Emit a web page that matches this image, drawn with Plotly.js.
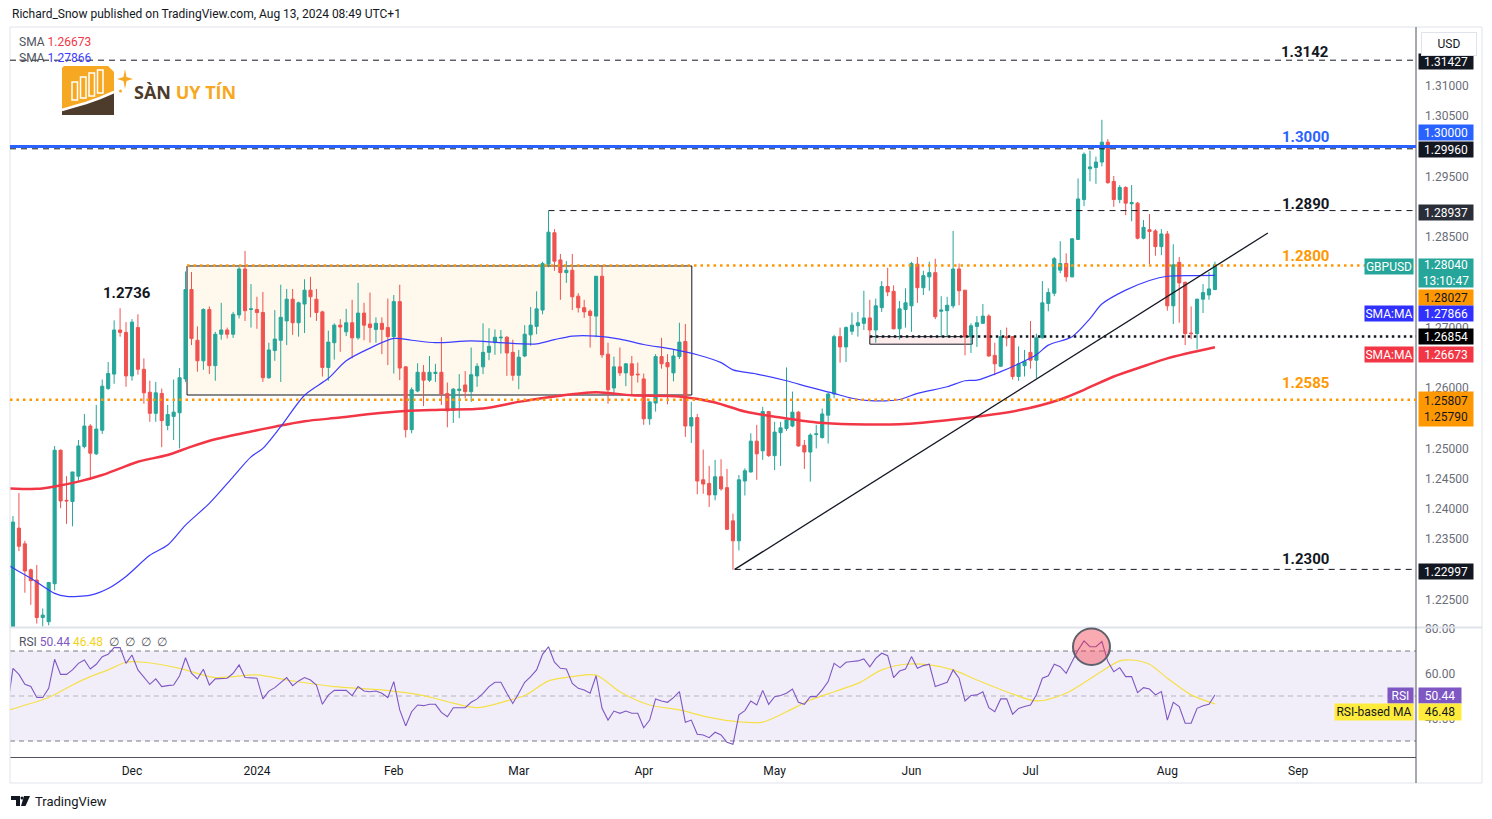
<!DOCTYPE html>
<html><head><meta charset="utf-8">
<script src="https://cdn.plot.ly/plotly-3.0.1.min.js"></script>
<style>html,body{margin:0;padding:0;background:#fff;}#chart{width:1492px;height:819px;}</style>
</head><body><div id="chart"></div>
<script>
// ---------- DATA ----------
const dates = [
'2023-11-02','2023-11-03','2023-11-06','2023-11-07','2023-11-08','2023-11-09','2023-11-10','2023-11-13','2023-11-14','2023-11-15','2023-11-16','2023-11-17','2023-11-20','2023-11-21','2023-11-22','2023-11-23','2023-11-24','2023-11-27','2023-11-28','2023-11-29','2023-11-30',
'2023-12-01','2023-12-04','2023-12-05','2023-12-06','2023-12-07','2023-12-08','2023-12-11','2023-12-12','2023-12-13','2023-12-14','2023-12-15','2023-12-18','2023-12-19','2023-12-20','2023-12-21','2023-12-22','2023-12-25','2023-12-26','2023-12-27','2023-12-28','2023-12-29',
'2024-01-01','2024-01-02','2024-01-03','2024-01-04','2024-01-05','2024-01-08','2024-01-09','2024-01-10','2024-01-11','2024-01-12','2024-01-15','2024-01-16','2024-01-17','2024-01-18','2024-01-19','2024-01-22','2024-01-23','2024-01-24','2024-01-25','2024-01-26','2024-01-29','2024-01-30','2024-01-31',
'2024-02-01','2024-02-02','2024-02-05','2024-02-06','2024-02-07','2024-02-08','2024-02-09','2024-02-12','2024-02-13','2024-02-14','2024-02-15','2024-02-16','2024-02-19','2024-02-20','2024-02-21','2024-02-22','2024-02-23','2024-02-26','2024-02-27','2024-02-28','2024-02-29',
'2024-03-01','2024-03-04','2024-03-05','2024-03-06','2024-03-07','2024-03-08','2024-03-11','2024-03-12','2024-03-13','2024-03-14','2024-03-15','2024-03-18','2024-03-19','2024-03-20','2024-03-21','2024-03-22','2024-03-25','2024-03-26','2024-03-27','2024-03-28','2024-03-29',
'2024-04-01','2024-04-02','2024-04-03','2024-04-04','2024-04-05','2024-04-08','2024-04-09','2024-04-10','2024-04-11','2024-04-12','2024-04-15','2024-04-16','2024-04-17','2024-04-18','2024-04-19','2024-04-22','2024-04-23','2024-04-24','2024-04-25','2024-04-26','2024-04-29','2024-04-30',
'2024-05-01','2024-05-02','2024-05-03','2024-05-06','2024-05-07','2024-05-08','2024-05-09','2024-05-10','2024-05-13','2024-05-14','2024-05-15','2024-05-16','2024-05-17','2024-05-20','2024-05-21','2024-05-22','2024-05-23','2024-05-24','2024-05-27','2024-05-28','2024-05-29','2024-05-30','2024-05-31',
'2024-06-03','2024-06-04','2024-06-05','2024-06-06','2024-06-07','2024-06-10','2024-06-11','2024-06-12','2024-06-13','2024-06-14','2024-06-17','2024-06-18','2024-06-19','2024-06-20','2024-06-21','2024-06-24','2024-06-25','2024-06-26','2024-06-27','2024-06-28',
'2024-07-01','2024-07-02','2024-07-03','2024-07-04','2024-07-05','2024-07-08','2024-07-09','2024-07-10','2024-07-11','2024-07-12','2024-07-15','2024-07-16','2024-07-17','2024-07-18','2024-07-19','2024-07-22','2024-07-23','2024-07-24','2024-07-25','2024-07-26','2024-07-29','2024-07-30','2024-07-31',
'2024-08-01','2024-08-02','2024-08-05','2024-08-06','2024-08-07','2024-08-08','2024-08-09','2024-08-12','2024-08-13'];

const open = [
1.2155,1.2200,1.2368,1.2342,1.2299,1.2282,1.2220,1.2213,1.2276,1.2497,1.2414,1.2412,1.2454,1.2503,1.2537,1.2491,1.2530,1.2599,1.2623,1.2696,1.2692,
1.2620,1.2700,1.2631,1.2593,1.2558,1.2591,1.2538,1.2553,1.2559,1.2615,1.2763,1.2679,1.2645,1.2730,1.2637,1.2689,1.2696,1.2689,1.2721,1.2797,1.2730,
1.2730,1.2725,1.2617,1.2662,1.2679,1.2711,1.2747,1.2708,1.2739,1.2762,1.2747,1.2726,1.2634,1.2675,1.2704,1.2693,1.2708,1.2683,1.2724,1.2706,1.2697,1.2707,1.2700,
1.2685,1.2743,1.2635,1.2531,1.2595,1.2626,1.2613,1.2624,1.2626,1.2591,1.2563,1.2596,1.2605,1.2594,1.2620,1.2635,1.2659,1.2675,1.2683,1.2684,1.2659,
1.2621,1.2653,1.2688,1.2702,1.2729,1.2805,1.2857,1.2812,1.2791,1.2795,1.2752,1.2733,1.2727,1.2719,1.2785,1.2656,1.2600,1.2635,1.2625,1.2640,1.2623,
1.2615,1.2549,1.2575,1.2652,1.2642,1.2625,1.2652,1.2677,1.2537,1.2551,1.2448,1.2442,1.2423,1.2453,1.2435,1.2380,1.2347,1.2446,1.2461,1.2512,1.2496,1.2561,
1.2488,1.2526,1.2533,1.2537,1.2560,1.2505,1.2494,1.2523,1.2518,1.2555,1.2590,1.2685,1.2668,1.2694,1.2703,1.2707,1.2716,1.2696,1.2733,1.2768,1.2760,1.2698,1.2730,
1.2736,1.2805,1.2766,1.2784,1.2791,1.2727,1.2728,1.2736,1.2797,1.2762,1.2685,1.2702,1.2707,1.2719,1.2654,1.2636,1.2685,1.2685,1.2619,1.2637,
1.2659,1.2646,1.2683,1.2740,1.2757,1.2795,1.2806,1.2784,1.2846,1.2912,1.2963,1.2965,1.2974,1.3007,1.2942,1.2912,1.2932,1.2905,1.2906,1.2848,1.2862,1.2860,1.2834,
1.2855,1.2736,1.2808,1.2775,1.2691,1.2690,1.2747,1.2754,1.2763];

const high = [
1.2214,1.2388,1.2426,1.2347,1.2301,1.2307,1.2235,1.2279,1.2504,1.2498,1.2454,1.2461,1.2514,1.2557,1.2540,1.2572,1.2614,1.2643,1.2712,1.2732,1.2709,
1.2714,1.2722,1.2649,1.2612,1.2610,1.2599,1.2572,1.2614,1.2633,1.2793,1.2792,1.2702,1.2732,1.2735,1.2693,1.2741,1.2700,1.2726,1.2800,1.2827,1.2772,
1.2751,1.2759,1.2675,1.2729,1.2771,1.2764,1.2764,1.2743,1.2780,1.2784,1.2764,1.2728,1.2695,1.2707,1.2714,1.2731,1.2746,1.2774,1.2741,1.2758,1.2717,1.2717,1.2748,
1.2754,1.2771,1.2636,1.2601,1.2641,1.2638,1.2653,1.2640,1.2684,1.2609,1.2600,1.2623,1.2628,1.2667,1.2641,1.2707,1.2699,1.2697,1.2696,1.2686,1.2680,
1.2663,1.2704,1.2734,1.2760,1.2809,1.2893,1.2863,1.2822,1.2810,1.2822,1.2757,1.2746,1.2730,1.2785,1.2803,1.2675,1.2652,1.2667,1.2641,1.2653,1.2642,
1.2624,1.2578,1.2656,1.2683,1.2656,1.2663,1.2708,1.2706,1.2577,1.2557,1.2498,1.2471,1.2481,1.2482,1.2466,1.2392,1.2456,1.2467,1.2525,1.2539,1.2569,1.2562,
1.2544,1.2544,1.2634,1.2594,1.2562,1.2514,1.2525,1.2539,1.2566,1.2592,1.2688,1.2700,1.2702,1.2725,1.2726,1.2761,1.2746,1.2748,1.2777,1.2799,1.2770,1.2744,1.2765,
1.2809,1.2817,1.2794,1.2809,1.2814,1.2752,1.2751,1.2860,1.2806,1.2762,1.2707,1.2719,1.2739,1.2722,1.2675,1.2696,1.2700,1.2686,1.2669,1.2663,
1.2711,1.2690,1.2777,1.2765,1.2817,1.2843,1.2823,1.2848,1.2947,1.2990,1.2993,1.2983,1.3044,1.3012,1.2951,1.2936,1.2934,1.2936,1.2908,1.2878,1.2888,1.2863,1.2863,
1.2860,1.2838,1.2817,1.2776,1.2735,1.2748,1.2772,1.2792,1.2809];

const low = [
1.2140,1.2185,1.2330,1.2261,1.2241,1.2210,1.2205,1.2207,1.2265,1.2401,1.2375,1.2371,1.2445,1.2500,1.2449,1.2489,1.2524,1.2597,1.2607,1.2685,1.2602,
1.2612,1.2622,1.2574,1.2544,1.2544,1.2502,1.2530,1.2514,1.2500,1.2610,1.2671,1.2627,1.2630,1.2623,1.2612,1.2680,1.2682,1.2683,1.2715,1.2711,1.2700,
1.2698,1.2610,1.2615,1.2645,1.2610,1.2671,1.2688,1.2685,1.2691,1.2717,1.2711,1.2619,1.2612,1.2647,1.2660,1.2686,1.2649,1.2680,1.2679,1.2675,1.2675,1.2656,1.2638,
1.2624,1.2613,1.2518,1.2525,1.2593,1.2570,1.2610,1.2610,1.2572,1.2535,1.2542,1.2550,1.2583,1.2577,1.2602,1.2623,1.2646,1.2655,1.2657,1.2620,1.2612,
1.2598,1.2651,1.2670,1.2689,1.2722,1.2800,1.2794,1.2746,1.2774,1.2729,1.2725,1.2716,1.2667,1.2684,1.2650,1.2574,1.2591,1.2620,1.2603,1.2588,1.2609,
1.2539,1.2539,1.2561,1.2632,1.2573,1.2611,1.2648,1.2519,1.2509,1.2424,1.2425,1.2403,1.2414,1.2430,1.2365,1.2299,1.2331,1.2422,1.2460,1.2448,1.2481,1.2486,
1.2464,1.2471,1.2529,1.2535,1.2503,1.2466,1.2445,1.2500,1.2516,1.2508,1.2583,1.2642,1.2643,1.2688,1.2685,1.2696,1.2682,1.2675,1.2726,1.2752,1.2697,1.2680,1.2700,
1.2693,1.2741,1.2754,1.2761,1.2714,1.2685,1.2685,1.2732,1.2737,1.2654,1.2658,1.2668,1.2706,1.2652,1.2621,1.2635,1.2669,1.2614,1.2612,1.2619,
1.2632,1.2616,1.2682,1.2727,1.2752,1.2790,1.2776,1.2783,1.2845,1.2901,1.2942,1.2938,1.2967,1.2938,1.2900,1.2906,1.2886,1.2876,1.2846,1.2846,1.2805,1.2819,1.2820,
1.2728,1.2706,1.2708,1.2671,1.2681,1.2664,1.2724,1.2746,1.2762];

const close = [
1.2198,1.2378,1.2338,1.2297,1.2281,1.2220,1.2224,1.2278,1.2497,1.2413,1.2413,1.2461,1.2504,1.2537,1.2492,1.2532,1.2603,1.2624,1.2696,1.2692,1.2620,
1.2709,1.2631,1.2592,1.2558,1.2592,1.2546,1.2556,1.2560,1.2617,1.2763,1.2682,1.2645,1.2730,1.2637,1.2689,1.2696,1.2689,1.2722,1.2797,1.2728,1.2731,
1.2725,1.2617,1.2663,1.2681,1.2717,1.2747,1.2708,1.2741,1.2762,1.2751,1.2725,1.2634,1.2676,1.2704,1.2701,1.2708,1.2683,1.2724,1.2704,1.2700,1.2707,1.2697,1.2685,
1.2743,1.2633,1.2531,1.2597,1.2626,1.2613,1.2626,1.2626,1.2590,1.2562,1.2598,1.2598,1.2594,1.2622,1.2636,1.2659,1.2669,1.2684,1.2684,1.2658,1.2621,
1.2651,1.2689,1.2704,1.2731,1.2806,1.2858,1.2810,1.2791,1.2795,1.2751,1.2733,1.2726,1.2720,1.2785,1.2655,1.2597,1.2635,1.2625,1.2640,1.2621,1.2622,
1.2549,1.2577,1.2652,1.2640,1.2635,1.2653,1.2676,1.2537,1.2551,1.2446,1.2441,1.2423,1.2453,1.2433,1.2366,1.2347,1.2448,1.2463,1.2512,1.2491,1.2561,1.2488,
1.2527,1.2534,1.2547,1.2560,1.2504,1.2494,1.2522,1.2524,1.2557,1.2590,1.2685,1.2668,1.2700,1.2704,1.2708,1.2716,1.2696,1.2736,1.2768,1.2759,1.2698,1.2731,1.2741,
1.2806,1.2766,1.2786,1.2791,1.2718,1.2729,1.2737,1.2797,1.2761,1.2685,1.2703,1.2708,1.2719,1.2653,1.2640,1.2685,1.2683,1.2619,1.2640,1.2644,
1.2646,1.2683,1.2741,1.2758,1.2814,1.2806,1.2784,1.2847,1.2913,1.2987,1.2966,1.2974,1.3007,1.2940,1.2912,1.2932,1.2906,1.2907,1.2848,1.2866,1.2859,1.2834,1.2855,
1.2736,1.2804,1.2774,1.2690,1.2690,1.2747,1.2758,1.2764,1.2804];

const rsi = [
44.0,62.3,59.6,55.2,54.2,49.3,49.3,53.4,66.3,59.6,59.6,61.6,64.5,66.0,62.0,64.1,67.5,68.5,71.5,71.5,64.5,
68.2,61.6,58.6,55.2,57.6,54.2,54.6,54.9,59.0,67.0,60.1,57.6,61.9,54.9,57.6,57.9,57.9,60.1,63.8,58.2,58.2,
57.9,48.7,52.2,53.7,56.1,58.2,54.6,56.7,58.2,57.1,54.9,46.3,50.4,52.5,52.5,52.5,50.2,54.2,52.2,51.9,52.2,51.2,49.3,
56.4,43.8,36.7,43.0,46.0,45.7,46.3,46.3,42.7,40.8,44.8,44.8,44.8,47.2,48.7,51.2,54.2,56.1,56.1,51.2,46.7,
51.2,56.1,58.6,61.6,68.5,71.9,65.0,62.3,62.0,55.6,53.4,52.7,51.2,59.0,44.5,39.3,43.3,42.3,43.3,42.3,42.3,
35.9,39.3,48.7,47.8,47.2,49.3,51.9,38.3,39.3,33.0,32.7,31.5,33.9,32.7,29.4,28.5,41.6,43.5,47.8,46.0,52.5,46.3,
49.7,50.2,51.2,53.1,47.2,46.3,49.7,49.7,52.7,56.4,64.5,62.6,65.0,65.3,65.6,66.5,63.0,66.7,69.0,67.9,58.2,61.1,62.0,
67.5,62.3,63.5,64.1,54.2,55.2,56.1,61.6,57.9,47.8,50.2,50.5,51.9,44.8,43.0,48.7,48.7,41.9,44.5,45.3,
46.0,50.5,57.9,59.0,64.1,63.0,60.1,65.3,70.4,74.5,71.9,71.9,74.2,65.3,60.8,62.6,58.6,58.6,51.5,53.7,53.1,50.5,52.0,
39.3,47.2,45.3,37.9,37.9,44.5,45.7,46.3,50.44];

const rsiMaDates = ['2023-11-02','2023-11-03','2023-11-13','2023-11-17','2023-11-22','2023-11-27','2023-11-30','2023-12-05','2023-12-13','2023-12-21','2024-01-01','2024-01-08','2024-01-18','2024-01-30','2024-02-08','2024-02-15','2024-02-21','2024-02-28','2024-03-04','2024-03-08','2024-03-14','2024-03-20','2024-03-26','2024-04-02','2024-04-09','2024-04-16','2024-04-23','2024-04-29','2024-05-03','2024-05-09','2024-05-15','2024-05-21','2024-05-27','2024-05-31','2024-06-06','2024-06-12','2024-06-18','2024-06-25','2024-07-02','2024-07-09','2024-07-16','2024-07-22','2024-07-24','2024-07-29','2024-08-01','2024-08-07','2024-08-13'];
const rsiMaVals = [43.5,44.3,49.3,54.9,58.6,61.6,65.0,65.0,62.3,58.2,59.4,57.1,54.2,52.7,50.2,46.8,44.8,47.8,50.2,56.7,58.6,59.3,51.9,46.0,43.8,40.5,38.5,38.4,43.0,48.2,51.9,55.6,61.6,64.1,63.8,61.6,57.1,51.9,47.8,51.2,59.3,65.6,66.0,64.1,57.9,50.5,46.48];

const sma50Dates = ['2023-11-02','2023-11-03','2023-11-08','2023-11-14','2023-11-16','2023-11-22','2023-11-27','2023-11-30','2023-12-06','2023-12-11','2023-12-14','2023-12-20','2023-12-26','2023-12-29','2024-01-02','2024-01-05','2024-01-11','2024-01-17','2024-01-22','2024-01-26','2024-02-01','2024-02-06','2024-02-12','2024-02-20','2024-02-27','2024-03-06','2024-03-11','2024-03-14','2024-03-20','2024-03-26','2024-04-01','2024-04-08','2024-04-12','2024-04-18','2024-04-22','2024-04-26','2024-05-03','2024-05-09','2024-05-15','2024-05-20','2024-05-23','2024-05-30','2024-06-04','2024-06-11','2024-06-14','2024-06-18','2024-06-24','2024-06-27','2024-07-02','2024-07-04','2024-07-10','2024-07-15','2024-07-17','2024-07-23','2024-07-29','2024-08-01','2024-08-08','2024-08-13'];
const sma50Vals = [1.2308,1.2302,1.2285,1.2260,1.2255,1.2257,1.2268,1.2288,1.2323,1.2340,1.2373,1.2409,1.2453,1.2486,1.2500,1.2536,1.2588,1.2616,1.2645,1.2666,1.2682,1.2679,1.2675,1.2678,1.2675,1.2673,1.2680,1.2686,1.2686,1.2681,1.2672,1.2664,1.2655,1.2642,1.2630,1.2623,1.2612,1.2601,1.2591,1.2583,1.2579,1.2581,1.2591,1.2602,1.2612,1.2613,1.2627,1.2640,1.2655,1.2671,1.2685,1.2715,1.2739,1.2762,1.2778,1.2785,1.2786,1.27866];

const sma200Dates = ['2023-11-02','2023-11-09','2023-11-14','2023-11-20','2023-11-24','2023-11-29','2023-12-04','2023-12-11','2023-12-15','2023-12-21','2023-12-29','2024-01-04','2024-01-11','2024-01-19','2024-01-26','2024-02-05','2024-02-13','2024-02-22','2024-03-01','2024-03-11','2024-03-20','2024-03-28','2024-04-09','2024-04-17','2024-04-24','2024-05-02','2024-05-10','2024-05-20','2024-05-30','2024-06-12','2024-06-27','2024-07-08','2024-07-12','2024-07-19','2024-07-26','2024-08-01','2024-08-13'];
const sma200Vals = [1.2434,1.2433,1.2437,1.2445,1.2456,1.2467,1.2478,1.2489,1.2503,1.2515,1.2528,1.2536,1.2545,1.2551,1.2557,1.2562,1.2564,1.2566,1.2577,1.2586,1.2593,1.2588,1.2586,1.2576,1.2561,1.2551,1.2543,1.2540,1.2540,1.2548,1.2563,1.2581,1.2597,1.2619,1.2636,1.2649,1.26673];

const monthTickDates = ['2023-12-01','2024-01-01','2024-02-01','2024-03-01','2024-04-01','2024-05-01','2024-06-03','2024-07-01','2024-08-01','2024-09-02'];
const monthTickLabels = ['Dec','2024','Feb','Mar','Apr','May','Jun','Jul','Aug','Sep'];

const priceTicks = [1.225,1.235,1.24,1.245,1.25,1.26,1.27,1.285,1.295,1.305,1.31];
const rsiTicks = [40,60,80];

// horizontal levels
const lvl3142 = 1.31427, lvl2996 = 1.29960, lvl3000 = 1.30000, lvl2894 = 1.28937,
      lvl2803 = 1.28027, lvl2685 = 1.26854, lvl2581 = 1.25807, lvl2300 = 1.22997;
const boxTop = 1.28020, boxBottom = 1.25884;
const pinkTop = 1.26850, pinkBottom = 1.26725;
const trendStart = 1.22997, trendEnd = 1.28566;
const levelLabels = ['1.3142','1.3000','1.2890','1.2800','1.2585','1.2300'];
const swingLabel = '1.2736';
const lastPrice = '1.28040', countdown = '13:10:47';
const sma200Last = '1.26673', sma50Last = '1.27866';
const rsiLast = '50.44', rsiMaLast = '46.48';

// ---------- GEOMETRY ----------
const L = 10, R = 1416, T = 28, B = 757;
const X = p => (p - L) / (R - L);
const Y = p => (B - p) / (B - T);
const FONT = 'Roboto, "Liberation Sans", sans-serif';
const xStart = '2023-11-02 12:00', xEnd = '2024-09-27 19:00';
const INK = '#131722';

const shapes = [];
const annotations = [];

function pline(x0, y0, x1, y1, color, width, dash) {
  shapes.push({type:'line', xref:'paper', yref:'paper', x0:X(x0), y0:Y(y0), x1:X(x1), y1:Y(y1),
    line:{color:color, width:width, dash:dash || 'solid'}});
}
function prect(x0, y0, x1, y1, fill, lineColor, lw, layer) {
  shapes.push({type:'rect', xref:'paper', yref:'paper', x0:X(x0), y0:Y(y1), x1:X(x1), y1:Y(y0),
    fillcolor:fill, line:{color:lineColor || 'rgba(0,0,0,0)', width:lw || 0}, layer:layer || 'above'});
}
function ppath(pts, fill, lineColor, lw, open_) {
  const d = pts.map((p, i) => (i ? 'L' : 'M') + X(p[0]) + ',' + Y(p[1])).join(' ') + (open_ ? '' : ' Z');
  shapes.push({type:'path', xref:'paper', yref:'paper', path:d, fillcolor:fill,
    line:{color:lineColor || 'rgba(0,0,0,0)', width:lw || 0}});
}
function hlevel(y, xFrom, color, width, dash) {
  shapes.push({type:'line', xref:'x', yref:'y', x0:xFrom, x1:xEnd, y0:y, y1:y,
    line:{color:color, width:width, dash:dash}});
}
function text(t, px, py, opts) {
  opts = opts || {};
  annotations.push(Object.assign({text:t, xref:'paper', yref:'paper', x:X(px), y:Y(py),
    xanchor:'left', yanchor:'middle', showarrow:false,
    font:{family:FONT, size:12, color:INK}}, opts));
}
function tag(t, px, py, w, h, bg, fg, anchor) {
  annotations.push({text:t, xref:'paper', yref:'paper', x:X(px), y:Y(py), xanchor:anchor || 'left',
    yanchor:'middle', showarrow:false, width:w, height:h, bgcolor:bg, borderpad:0, align:'center',
    valign:'middle', font:{family:FONT, size:12, color:fg}});
}

// frame and separators
prect(10, 27, 1482, 783, 'rgba(0,0,0,0)', '#e0e3eb', 1);
pline(10, 627.5, 1482, 627.5, '#e0e3eb', 2);
pline(1416, 27, 1416, 783, '#50535e', 1);

// consolidation box and small pink box
shapes.push({type:'rect', xref:'x', yref:'y', x0:'2023-12-14 06:00', x1:'2024-04-11 02:00', y0:boxBottom, y1:boxTop,
  fillcolor:'rgba(255,152,0,0.07)', line:{color:INK, width:1}, layer:'below'});
shapes.push({type:'rect', xref:'x', yref:'y', x0:'2024-05-23', x1:'2024-06-17 05:00', y0:pinkBottom, y1:pinkTop,
  fillcolor:'rgba(242,54,69,0.10)', line:{color:INK, width:1}, layer:'below'});

// levels
hlevel(lvl3142, xStart, INK, 1, '6px,5px');
hlevel(lvl2996, xStart, INK, 1, '6px,5px');
hlevel(lvl3000, xStart, '#2962ff', 3, 'solid');
hlevel(lvl2894, '2024-03-08', INK, 1, '6px,5px');
hlevel(lvl2803, '2023-12-14 06:00', '#ff9800', 2.5, '2.5px,4px');
hlevel(lvl2581, xStart, '#ff9800', 2.5, '2.5px,4px');
hlevel(lvl2685, '2024-05-23', INK, 2.5, '2.5px,3.5px');
hlevel(lvl2300, '2024-04-22 07:00', INK, 1, '6px,5px');
// trend line
shapes.push({type:'line', xref:'x', yref:'y', x0:'2024-04-22 07:00', y0:trendStart, x1:'2024-08-23 21:36', y1:trendEnd,
  line:{color:INK, width:1.3}});

// RSI pane band and guides
shapes.push({type:'rect', xref:'paper', yref:'y2', x0:0, x1:1, y0:30, y1:70, fillcolor:'rgba(126,87,194,0.10)',
  line:{width:0}, layer:'below'});
[[70,'#787b86'],[50,'#b2b5be'],[30,'#787b86']].forEach(([v,c]) => shapes.push({type:'line', xref:'paper', yref:'y2',
  x0:0, x1:1, y0:v, y1:v, line:{color:c, width:1, dash:'5px,4px'}, layer:'below'}));
// highlight circle
shapes.push({type:'circle', xref:'paper', yref:'paper', x0:X(1073), x1:X(1110), y0:Y(665), y1:Y(628.5),
  fillcolor:'rgba(242,54,69,0.42)', line:{color:'#5d606b', width:2}});

// logo watermark
ppath([[64,66],[108,66],[114,72],[114,115],[64,115],[62,113],[62,68]], '#f7a823');
ppath([[62,115],[62,110],[72,107],[86,103],[100,98],[114,92],[114,115]], '#4d3b2c');
ppath([[62,110],[72,107],[86,103],[100,98],[114,92]], 'rgba(0,0,0,0)', '#ffffff', 2.5, true);
prect(72, 82, 77.5, 100, 'rgba(0,0,0,0)', '#ffffff', 1.5);
prect(80.5, 77, 86, 98, 'rgba(0,0,0,0)', '#ffffff', 1.5);
prect(89, 73, 94.5, 96, 'rgba(0,0,0,0)', '#ffffff', 1.5);
prect(97.5, 70, 103, 93, 'rgba(0,0,0,0)', '#ffffff', 1.5);
ppath([[125,69],[126.5,77],[133,79],[126.5,81],[125,89],[123.5,81],[117,79],[123.5,77]], '#f7a823');
shapes.push({type:'circle', xref:'paper', yref:'paper', x0:X(119), x1:X(122), y0:Y(92.5), y1:Y(89.5), fillcolor:'#f7a823', line:{width:0}});
text('<b><span style="color:#4d3b2c">SÀN</span> <span style="color:#f7a823">UY TÍN</span></b>', 132, 92,
  {font:{family:'"Open Sans", sans-serif', size:18, color:'#4d3b2c'}});

// tradingview footer logo
ppath([[11,796],[20,796],[20,806],[16,806],[16,800],[11,800]], INK);
shapes.push({type:'circle', xref:'paper', yref:'paper', x0:X(20.5), x1:X(23.5), y0:Y(799.5), y1:Y(796.5), fillcolor:INK, line:{width:0}});
ppath([[24,796],[30,796],[25.5,806],[21,806]], INK);
text('TradingView', 33, 801, {font:{family:FONT, size:13, color:INK}});

// header & legends
text('Richard_Snow published on TradingView.com, Aug 13, 2024 08:49 UTC+1', 10, 14, {font:{family:FONT, size:12, color:INK}});
text('SMA <span style="color:#f23645">' + sma200Last + '</span>', 17, 42, {font:{family:FONT, size:12, color:'#50535e'}});
text('SMA <span style="color:#3c3cff">' + sma50Last + '</span>', 17, 58, {font:{family:FONT, size:12, color:'#50535e'}});
text('RSI <span style="color:#7e57c2">' + rsiLast + '</span> <span style="color:#f2d21b">' + rsiMaLast + '</span>  ∅  ∅  ∅  ∅',
  17, 642, {font:{family:FONT, size:12, color:'#50535e'}});

// level labels on chart
const bold15 = c => ({xanchor:'center', font:{family:FONT, size:15, color:c}});
text('<b>' + levelLabels[0] + '</b>', 1305, 52, bold15(INK));
text('<b>' + levelLabels[1] + '</b>', 1305, 137, bold15('#2962ff'));
text('<b>' + levelLabels[2] + '</b>', 1305, 204, bold15(INK));
text('<b>' + levelLabels[3] + '</b>', 1305, 256, bold15('#ff9800'));
text('<b>' + levelLabels[4] + '</b>', 1305, 383, bold15('#ff9800'));
text('<b>' + levelLabels[5] + '</b>', 1305, 559, bold15(INK));
text('<b>' + swingLabel + '</b>', 127, 293, bold15(INK));

// price scale tags
tag(lvl3142.toFixed(5), 1418, 62, 54, 15, INK, '#ffffff');
annotations.push({text:'USD', xref:'paper', yref:'paper', x:X(1449), y:Y(44), xanchor:'center', yanchor:'middle',
  showarrow:false, width:54, height:22, bgcolor:'#ffffff', bordercolor:'#e0e3eb', borderwidth:1, borderpad:0,
  font:{family:FONT, size:12, color:INK}});
tag(lvl3000.toFixed(5), 1418, 132, 54, 15, '#2962ff', '#ffffff');
tag(lvl2996.toFixed(5), 1418, 149, 54, 15, INK, '#ffffff');
tag(lvl2894.toFixed(5), 1418, 212, 54, 15, '#2a2e39', '#ffffff');
tag('GBPUSD', 1414, 266, 48, 15, '#26a69a', '#ffffff', 'right');
tag(lastPrice + '<br>' + countdown, 1418, 273, 54, 28, '#26a69a', '#ffffff');
tag(lvl2803.toFixed(5), 1418, 297, 54, 15, '#ff9800', INK);
tag('SMA:MA', 1414, 314, 48, 15, '#3030ff', '#ffffff', 'right');
tag(sma50Last, 1418, 314, 54, 15, '#3030ff', '#ffffff');
tag(lvl2685.toFixed(5), 1418, 337, 54, 15, '#000000', '#ffffff');
tag('SMA:MA', 1414, 354, 48, 15, '#f23645', '#ffffff', 'right');
tag(sma200Last, 1418, 354, 54, 15, '#f23645', '#ffffff');
tag('1.25807<br>1.25790', 1418, 409.5, 54, 34, '#ff9800', INK);
tag(lvl2300.toFixed(5), 1418, 571, 54, 15, INK, '#ffffff');
tag('RSI', 1414, 695, 25, 15, '#7e57c2', '#ffffff', 'right');
tag(rsiLast, 1418, 695, 42, 15, '#7e57c2', '#ffffff');
tag('RSI-based MA', 1414, 712, 78, 16, '#ffeb3b', INK, 'right');
tag(rsiMaLast, 1418, 712, 42, 16, '#ffeb3b', INK);

// ---------- TRACES ----------
const traces = [
  {type:'candlestick', x:dates, open:open, high:high, low:low, close:close, xaxis:'x', yaxis:'y',
   increasing:{line:{color:'#26a69a', width:1}, fillcolor:'#26a69a'},
   decreasing:{line:{color:'#ef5350', width:1}, fillcolor:'#ef5350'},
   whiskerwidth:0, hoverinfo:'skip'},
  {type:'scatter', mode:'lines', x:sma200Dates, y:sma200Vals, xaxis:'x', yaxis:'y',
   line:{color:'#f23645', width:2.5, shape:'spline', smoothing:0.8}, hoverinfo:'skip'},
  {type:'scatter', mode:'lines', x:sma50Dates, y:sma50Vals, xaxis:'x', yaxis:'y',
   line:{color:'#3c3cff', width:1.2, shape:'spline', smoothing:0.8}, hoverinfo:'skip'},
  {type:'scatter', mode:'lines', x:rsiMaDates, y:rsiMaVals, xaxis:'x', yaxis:'y2',
   line:{color:'#f5e04a', width:1.2, shape:'spline', smoothing:0.8}, hoverinfo:'skip'},
  {type:'scatter', mode:'lines', x:dates, y:rsi, xaxis:'x', yaxis:'y2',
   line:{color:'#7e57c2', width:1.1}, hoverinfo:'skip'}
];

const layout = {
  width:1492, height:819,
  margin:{l:L, r:1492 - R, t:T, b:819 - B, pad:0},
  paper_bgcolor:'#ffffff', plot_bgcolor:'rgba(0,0,0,0)',
  showlegend:false, boxgap:0.25,
  font:{family:FONT, size:12, color:INK},
  xaxis:{type:'date', range:[xStart, xEnd], rangebreaks:[{bounds:['sat','mon']}],
    rangeslider:{visible:false}, anchor:'y2', showgrid:false, zeroline:false,
    tickmode:'array', tickvals:monthTickDates, ticktext:monthTickLabels, ticks:'',
    tickfont:{family:FONT, size:12, color:INK}, ticklabelstandoff:3,
    showline:true, linecolor:'#50535e', linewidth:1, fixedrange:true},
  yaxis:{domain:[(B - 627) / (B - T), 1], range:[1.22043, 1.31960], side:'right', anchor:'x',
    showgrid:false, zeroline:false, tickmode:'array', tickvals:priceTicks,
    ticktext:priceTicks.map(v => v.toFixed(5)), ticks:'', ticklabelstandoff:8,
    tickfont:{family:FONT, size:12, color:'#6a6d78'}, fixedrange:true},
  yaxis2:{domain:[0, (B - 628) / (B - T)], range:[22.89, 80.22], side:'right', anchor:'x',
    showgrid:false, zeroline:false, tickmode:'array', tickvals:rsiTicks,
    ticktext:rsiTicks.map(v => v.toFixed(2)), ticks:'', ticklabelstandoff:8,
    tickfont:{family:FONT, size:12, color:'#6a6d78'}, fixedrange:true},
  shapes:shapes, annotations:annotations
};

Plotly.newPlot('chart', traces, layout, {staticPlot:true, displayModeBar:false});
</script></body></html>
